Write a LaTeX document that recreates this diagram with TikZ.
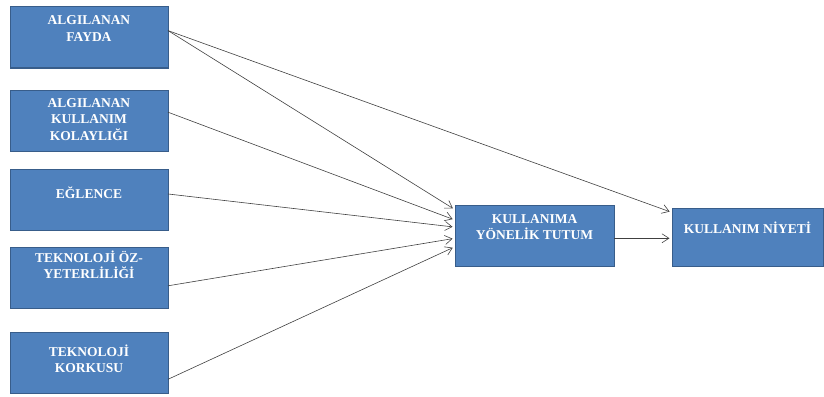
\documentclass[tikz,border=0pt]{standalone}
\usepackage{fontspec}
\setmainfont{Liberation Serif}
\usetikzlibrary{
    arrows.meta,
    positioning
}
\definecolor{box blue}{HTML}{4F81BD}
\definecolor{box border}{HTML}{385D8A}
\definecolor{line gray}{HTML}{404040}
% text set from the top of a box: [height]{first baseline}{text}
\newcommand{\boxtext}[3][61pt]{\parbox[c][#1][t]{150pt}{\centering\rule{0pt}{#2}#3}}
\tikzset{
    % Colors
    box color/.style={fill=box blue,draw=box border},
    %
    % Boxes
    factor box/.style={box color,line width=1pt,text=white,inner sep=0pt,outer sep=0pt,
        minimum width=158pt,anchor=north west,font=\bfseries\fontsize{13.5}{16.5}\selectfont},
    %
    % Arrows
    arrow tip/.tip={Straight Barb[length=7pt,width=9pt]},
    arr/.style={->,>={arrow tip},line gray,line width=0.6pt,shorten >=2.5pt}
}

\begin{document}
\begin{tikzpicture}[x=1pt,y=-1pt]
    \useasboundingbox (0,0) rectangle (824,396);
    % factors
    \node[factor box] (fayda) at (10,7) {\boxtext{18pt}{ALGILANAN\\FAYDA}};
    \node[factor box] (kolaylik) at (10,90) {\boxtext{17pt}{ALGILANAN\\KULLANIM\\KOLAYLIĞI}};
    \node[factor box] (eglence) at (10,169) {\boxtext{29pt}{EĞLENCE}};
    \node[factor box] (yeterlilik) at (10,247) {\boxtext{15pt}{TEKNOLOJİ ÖZ-\\YETERLİLİĞİ}};
    \node[factor box] (korku) at (10,332) {\boxtext{24pt}{TEKNOLOJİ\\KORKUSU}};
    % attitude and intention
    \node[factor box,minimum width=159pt] (tutum) at (455,205) {\boxtext{18pt}{KULLANIMA\\YÖNELİK TUTUM}};
    \node[factor box,minimum width=151pt] (niyet) at (672,208) {\boxtext[58pt]{25pt}{KULLANIM NİYETİ}};

    \draw[arr] (fayda.5) -- (tutum.162);
    \draw[arr] (fayda.5) -- (niyet.162);
    \draw[arr] (kolaylik.6) -- (tutum.169);
    \draw[arr] (eglence.4) -- (tutum.174.5);
    \draw[arr] (yeterlilik.-6) -- (tutum.182);
    \draw[arr] (korku.-12.5) -- (tutum.188);
    \draw[arr] (tutum.-2) -- (tutum.-2 -| niyet.west);
\end{tikzpicture}
\end{document}
